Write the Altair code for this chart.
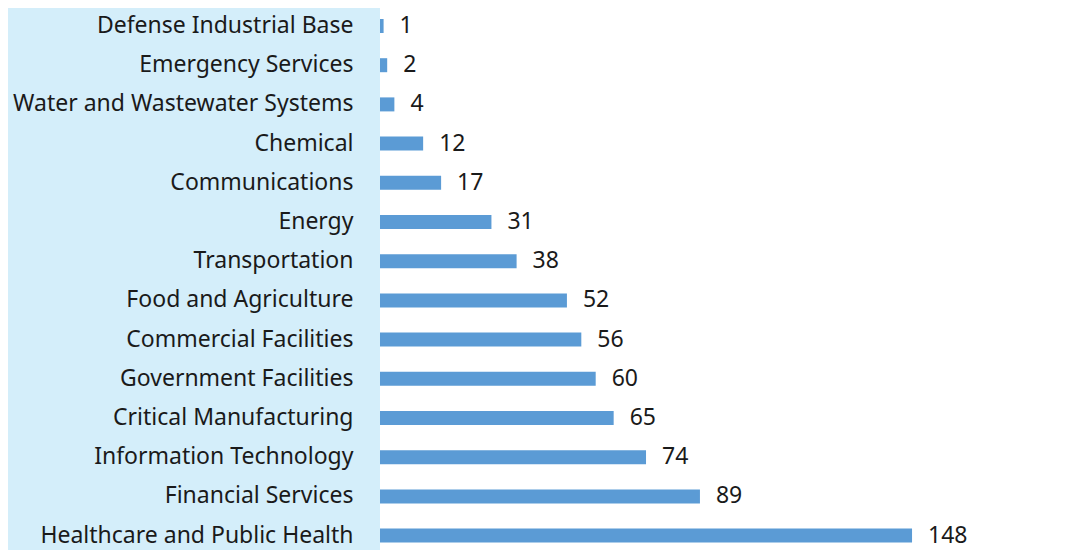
import altair as alt
import pandas as pd

sectors = [
    "Defense Industrial Base", "Emergency Services", "Water and Wastewater Systems",
    "Chemical", "Communications", "Energy", "Transportation", "Food and Agriculture",
    "Commercial Facilities", "Government Facilities", "Critical Manufacturing",
    "Information Technology", "Financial Services", "Healthcare and Public Health",
]
counts = [1, 2, 4, 12, 17, 31, 38, 52, 56, 60, 65, 74, 89, 148]

df = pd.DataFrame({"sector": sectors, "count": counts})

FONT = "Noto Sans"
BAR = "#5b9bd5"
BG = "#d4eefa"

y = alt.Y("sector:N", sort=sectors,
          scale=alt.Scale(paddingInner=0.6429, paddingOuter=0.2347, align=0.598),
          axis=alt.Axis(title=None, ticks=False, domain=False, labelPadding=27,
                        labelFontSize=23, labelFont=FONT, labelColor="#1a1a1a",
                        labelLimit=400))
x = alt.X("count:Q", scale=alt.Scale(domain=[0, 195], nice=False),
          axis=None)

bars = alt.Chart(df).mark_bar(color=BAR).encode(x=x, y=y)
labels = alt.Chart(df).mark_text(align="left", baseline="middle", dx=16, dy=0,
                                 fontSize=23, font=FONT, color="#1a1a1a").encode(
    x=x, y=y, text="count:Q")

chart = (bars + labels).properties(
    width=701, height=542,
    autosize=alt.AutoSizeParams(type="none"),
    padding={"left": 372, "top": 0, "right": 0, "bottom": 0},
    background=BG,
).configure_view(fill="white", stroke=None)

chart.save("out.html", embed_options={"renderer": "svg", "actions": False})
